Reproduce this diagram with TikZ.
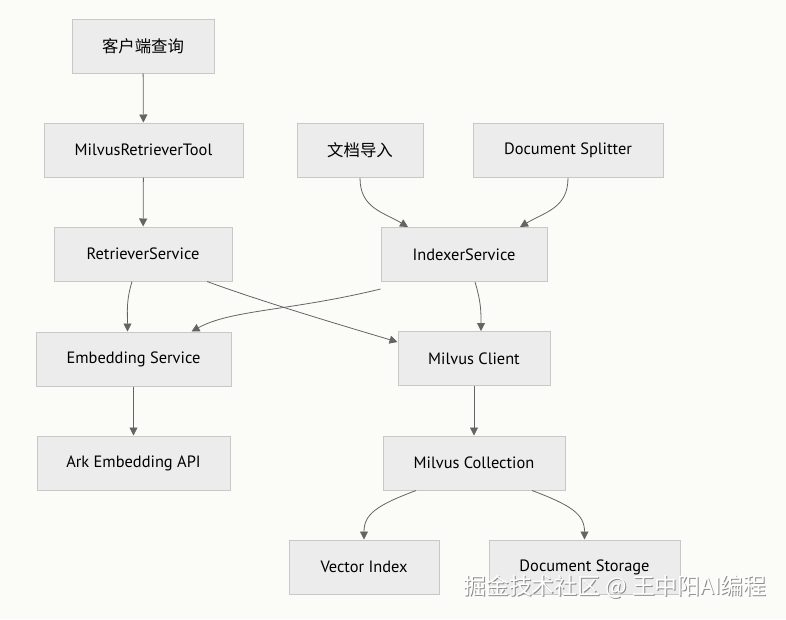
\documentclass[tikz,border=0pt]{standalone}
\usepackage{fontspec}
\setmainfont{PT Sans}
\newfontfamily\cjk{Noto Sans CJK SC}
\usetikzlibrary{arrows.meta,positioning}
\definecolor{boxfill}{RGB}{236,236,236}
\definecolor{boxline}{RGB}{200,200,200}
\definecolor{edgecol}{RGB}{100,100,100}
\definecolor{paper}{RGB}{251,251,248}
\tikzset{
  box/.style={draw=boxline, fill=boxfill, line width=1pt, minimum height=54pt,
    inner sep=0pt, font=\fontsize{16.4}{19}\selectfont},
  flow/.style={draw=edgecol, line width=0.8pt, -{Triangle[length=8pt,width=8pt]}}
}
\begin{document}
\begin{tikzpicture}[x=1pt,y=-1pt]
    % Background
    \fill[paper] (0,0) rectangle (786,619);
    \useasboundingbox (0,0) rectangle (786,619);

    % Query side
    \node[box, minimum width=142pt] (query) at (143,46) {\cjk 客户端查询};
    \node[box, minimum width=199pt] (tool) at (143.5,150) {MilvusRetrieverTool};
    \node[box, minimum width=178pt] (retr) at (143,254) {RetrieverService};
    \node[box, minimum width=195pt] (embed) at (133.5,359) {Embedding Service};
    \node[box, minimum width=193pt] (ark) at (133.5,463) {Ark Embedding API};

    % Indexing side
    \node[box, minimum width=126pt] (docin) at (360,150.5) {\cjk 文档导入};
    \node[box, minimum width=190pt] (split) at (568,150.5) {Document Splitter};
    \node[box, minimum width=166pt] (index) at (464,254.5) {IndexerService};

    % Storage
    \node[box, minimum width=152pt] (client) at (474,358.5) {Milvus Client};
    \node[box, minimum width=182pt] (coll) at (474,463) {Milvus Collection};
    \node[box, minimum width=150pt] (vindex) at (364,567) {Vector Index};
    \node[box, minimum width=191pt] (store) at (584.5,567) {Document Storage};

    % Edges
    \draw[flow] (query) -- (tool);
    \draw[flow] (tool) -- (retr);
    \draw[flow] (docin.south) .. controls +(0,30) and +(-25,-15) .. ([xshift=-56pt]index.north);
    \draw[flow] (split.south) .. controls +(0,30) and +(25,-15) .. ([xshift=56pt]index.north);
    \draw[flow] ([xshift=-11pt]retr.south) .. controls +(-6,20) and +(0,-20) .. ([xshift=-6pt]embed.north);
    \draw[flow] ([xshift=64pt]retr.south) .. controls +(60,22) and +(-40,-12) .. ([yshift=-11pt]client.north west);
    \draw[flow] ([yshift=-7pt]index.south west) .. controls +(-90,22) and +(40,-22) .. ([xshift=58pt]embed.north);
    \draw[flow] ([xshift=11pt]index.south) .. controls +(6,20) and +(0,-20) .. ([xshift=7pt]client.north);
    \draw[flow] (client) -- (coll);
    \draw[flow] (embed) -- (ark);
    \draw[flow] ([xshift=-58pt]coll.south) .. controls +(-40,15) and +(0,-25) .. (vindex.north);
    \draw[flow] ([xshift=58pt]coll.south) .. controls +(40,15) and +(0,-25) .. (store.north);

    % Watermark
    \node[text=black!45, font=\cjk\fontsize{22.8}{23}\selectfont] (markshade) at (616,588) {掘金技术社区 @ 王中阳AI编程};
    \node[text=white, font=\cjk\fontsize{22.8}{23}\selectfont] (mark) at (615,587) {掘金技术社区 @ 王中阳AI编程};
\end{tikzpicture}
\end{document}
